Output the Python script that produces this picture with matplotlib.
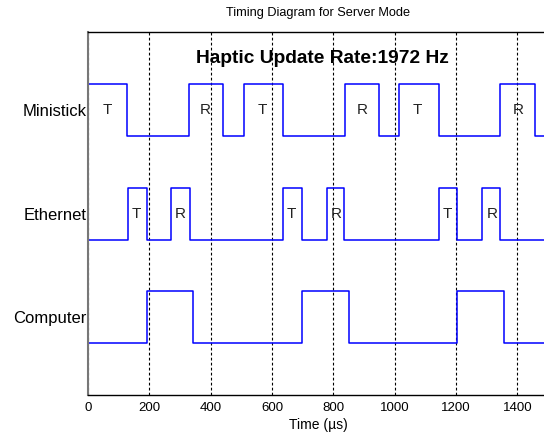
import numpy as np
import matplotlib
matplotlib.use("Agg")
import matplotlib.pyplot as plt

plt.rcParams['font.family'] = ['Liberation Sans', 'DejaVu Sans']

# Transition times (us) for each signal, and the level it starts at
x_max = 1500
ministick_edges = [128, 330, 440, 508, 635, 838, 948, 1015, 1144, 1345, 1457]
ministick_start = 1  # starts high
ethernet_edges = [130, 191, 270, 332, 636, 698, 779, 836, 1144, 1204, 1284, 1345]
ethernet_start = 0
computer_edges = [191, 344, 698, 852, 1204, 1358]
computer_start = 0

# baseline (low level) of each trace
signal_names = ["Computer", "Ethernet", "Ministick"]
baselines = [1, 3, 5]

# T / R annotations
ministick_labels = ["T", "R", "T", "R", "T", "R"]
ministick_label_t = [62, 382, 567, 894, 1073, 1402]
ethernet_labels = ["T", "R", "T", "R", "T", "R"]
ethernet_label_t = [157, 300, 662, 809, 1171, 1318]

grid_ticks = [0, 200, 400, 600, 800, 1000, 1200, 1400]


def step_trace(edges, start, base):
    xs = [0] + edges + [x_max]
    lv = []
    level = start
    for _ in range(len(xs) - 1):
        lv.append(base + level)
        level = 1 - level
    lv.append(lv[-1])
    return xs, lv


fig = plt.figure(figsize=(5.44, 4.36), dpi=100)
ax = fig.add_axes([88 / 544, 41 / 436, 460 / 544, 362.7 / 436])

for edges, start, base in [(computer_edges, computer_start, baselines[0]),
                           (ethernet_edges, ethernet_start, baselines[1]),
                           (ministick_edges, ministick_start, baselines[2])]:
    xs, ys = step_trace(edges, start, base)
    ax.step(xs, ys, where='post', color='#0000ff', lw=1.1)

for lab, t in zip(ministick_labels, ministick_label_t):
    ax.text(t, baselines[2] + 0.5, lab, ha='center', va='center', fontsize=11, color='#222222')
for lab, t in zip(ethernet_labels, ethernet_label_t):
    ax.text(t, baselines[1] + 0.5, lab, ha='center', va='center', fontsize=11, color='#222222')

ax.text(763, 6.5, "Haptic Update Rate:1972 Hz", ha='center', va='center',
        fontsize=13.8, fontweight='bold')

ax.set_xlim(0, x_max)
ax.set_ylim(0, 7)
ax.set_xticks(grid_ticks)
ax.set_yticks([b + 0.5 for b in baselines])
ax.set_yticklabels(signal_names, fontsize=12)
ax.tick_params(axis='x', direction='in', length=0, labelsize=9.5, pad=5)
ax.tick_params(axis='y', length=0, pad=1)
ax.xaxis.grid(True, color='black', linestyle=(0, (2.5, 2)), lw=0.8)
ax.set_xlabel("Time (\u00b5s)", fontsize=10, labelpad=3)
ax.set_title("Timing Diagram for Server Mode", fontsize=9.2, pad=12)
for s in ax.spines.values():
    s.set_linewidth(1.0)
ax.spines['left'].set_color('#777777')
ax.spines['left'].set_linewidth(1.5)

fig.savefig("out.png", dpi=100)
